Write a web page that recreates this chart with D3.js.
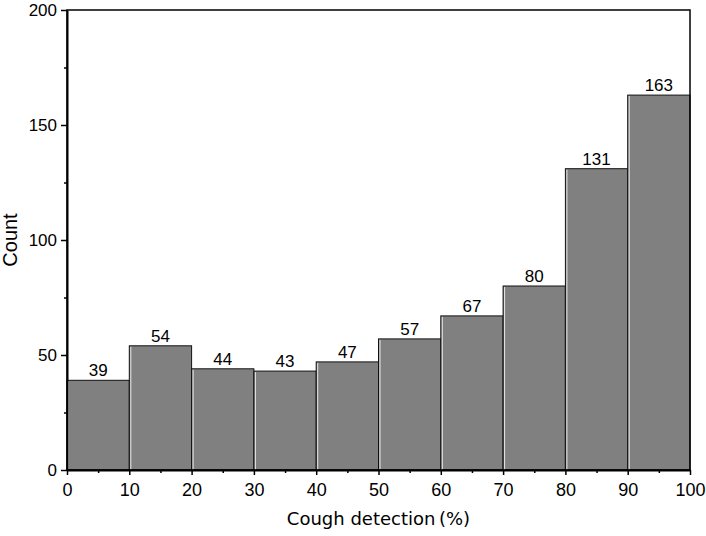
<!DOCTYPE html>
<html>
<head>
<meta charset="utf-8">
<script src="https://cdn.jsdelivr.net/npm/d3@7"></script>
<style>
  body { margin: 0; background: #fff; }
  text { font-family: "Liberation Sans", Arial, sans-serif; }
</style>
</head>
<body>
<div id="chart"></div>
<script>
// bin edges and counts
var binStarts = [0, 10, 20, 30, 40, 50, 60, 70, 80, 90];
var binWidth = 10;
var counts = [39, 54, 44, 43, 47, 57, 67, 80, 131, 163];
var xTicks = [0, 10, 20, 30, 40, 50, 60, 70, 80, 90, 100];
var yTicks = [0, 50, 100, 150, 200];

var margin = { top: 10, right: 16, bottom: 66, left: 67 },
  width = 706 - margin.left - margin.right,
  height = 536 - margin.top - margin.bottom;

var svg = d3
  .select("#chart")
  .append("svg")
  .attr("width", 706)
  .attr("height", 536)
  .append("g")
  .attr("transform", "translate(" + margin.left + "," + margin.top + ")");

var x = d3.scaleLinear().domain([0, 100]).range([0, width]);
var y = d3.scaleLinear().domain([0, 200]).range([height, 0]);

// bars
svg
  .selectAll(".bar")
  .data(counts)
  .enter()
  .append("rect")
  .attr("class", "bar")
  .attr("x", function (d, i) { return x(binStarts[i]); })
  .attr("y", function (d) { return y(d); })
  .attr("width", function (d, i) { return x(binStarts[i] + binWidth) - x(binStarts[i]); })
  .attr("height", function (d) { return height - y(d); })
  .attr("fill", "#808080")
  .attr("stroke", "#111")
  .attr("stroke-width", 1);

// light inner edge on the left of each bar
svg
  .selectAll(".hl")
  .data(counts)
  .enter()
  .append("line")
  .attr("x1", function (d, i) { return x(binStarts[i]) + 1.5; })
  .attr("x2", function (d, i) { return x(binStarts[i]) + 1.5; })
  .attr("y1", function (d) { return y(d) + 1; })
  .attr("y2", height)
  .attr("stroke", "#e8e8e8")
  .attr("stroke-width", 1);

// value labels
svg
  .selectAll(".lbl")
  .data(counts)
  .enter()
  .append("text")
  .attr("x", function (d, i) { return x(binStarts[i] + binWidth / 2); })
  .attr("y", function (d) { return y(d) - 4; })
  .attr("text-anchor", "middle")
  .style("font-size", "17px")
  .text(function (d) { return d; });

// frame
svg
  .append("rect")
  .attr("x", 0)
  .attr("y", 0)
  .attr("width", width)
  .attr("height", height)
  .attr("fill", "none")
  .attr("stroke", "#000")
  .attr("stroke-width", 1.5);

// X axis
var xAxis = svg
  .append("g")
  .attr("transform", "translate(0," + height + ")")
  .call(d3.axisBottom(x).tickValues(xTicks).tickSize(5).tickSizeOuter(0).tickPadding(8));
xAxis.select(".domain").attr("stroke-width", 2);
xAxis.selectAll(".tick line").attr("stroke-width", 1.5);
xAxis.selectAll("text").style("font-size", "18px").style("font-family", "Liberation Sans, Arial, sans-serif");

var xMinor = svg
  .append("g")
  .attr("transform", "translate(0," + height + ")")
  .call(d3.axisBottom(x).tickValues(binStarts.map(function (d) { return d + 5; })).tickSize(3).tickFormat(""));
xMinor.select(".domain").remove();
xMinor.selectAll(".tick line").attr("stroke-width", 1.5);

// Y axis
var yAxis = svg.append("g")
  .call(d3.axisLeft(y).tickValues(yTicks).tickSize(6).tickSizeOuter(0).tickPadding(4));
yAxis.select(".domain").attr("stroke-width", 2);
yAxis.selectAll(".tick line").attr("stroke-width", 1.5);
yAxis.selectAll("text").style("font-size", "17px").style("font-family", "Liberation Sans, Arial, sans-serif");

var yMinor = svg.append("g")
  .call(d3.axisLeft(y).tickValues([25, 75, 125, 175]).tickSize(3).tickFormat(""));
yMinor.select(".domain").remove();
yMinor.selectAll(".tick line").attr("stroke-width", 1.5);

// axis titles
svg
  .append("text")
  .attr("x", width / 2)
  .attr("y", height + 55)
  .attr("text-anchor", "middle")
  .style("font-family", "DejaVu Sans, sans-serif")
  .style("font-size", "18px")
  .text("Cough detection\u2009(%)");

svg
  .append("text")
  .attr("transform", "translate(" + (-50) + "," + height / 2 + ") rotate(-90)")
  .attr("text-anchor", "middle")
  .style("font-size", "20px")
  .text("Count");
</script>
</body>
</html>
